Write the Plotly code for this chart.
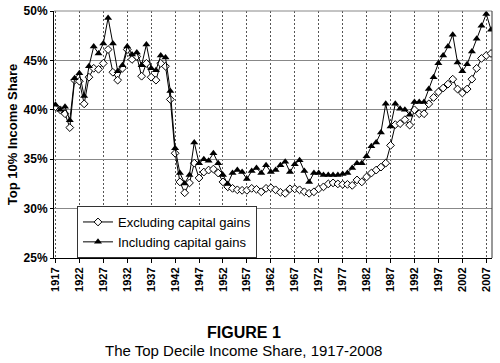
import plotly.graph_objects as go

years = list(range(1917, 2009))

excluding_kg = [
    40.3, 40.0, 39.6, 38.2, 43.0, 42.9, 40.6, 43.3, 44.2, 44.1,   # 1917-1926
    44.7, 46.1, 43.8, 43.0, 44.2, 46.1, 45.1, 45.4, 43.4, 44.7,   # 1927-1936
    43.3, 43.0, 44.7, 44.4, 41.05, 35.6, 32.7, 31.6, 32.6, 34.6,  # 1937-1946
    33.1, 33.7, 33.9, 34.0, 33.6, 32.7, 32.2, 32.05, 31.9, 31.85, # 1947-1956
    31.85, 32.05, 31.95, 31.7, 32.05, 32.1, 31.9, 31.65, 31.55, 32.0,  # 1957-1966
    32.0, 31.9, 31.7, 31.55, 31.7, 32.0, 32.2, 32.5, 32.6, 32.5,  # 1967-1976
    32.45, 32.45, 32.35, 32.9, 32.7, 33.2, 33.6, 33.9, 34.2, 34.6,  # 1977-1986
    36.4, 38.5, 38.6, 39.0, 38.45, 40.0, 39.6, 39.6, 40.6, 41.25,  # 1987-1996
    41.8, 42.2, 42.6, 43.1, 42.1, 41.7, 42.1, 43.1, 44.2, 45.2,   # 1997-2006
    45.5, 45.7,                                                   # 2007-2008
]

including_kg = [
    40.5, 40.0, 40.3, 38.95, 43.2, 43.7, 41.4, 44.4, 46.4, 45.7,  # 1917-1926
    46.7, 49.3, 46.7, 43.9, 44.5, 46.4, 45.6, 45.8, 44.5, 46.6,   # 1927-1936
    44.2, 44.0, 45.5, 45.3, 41.9, 36.1, 33.6, 32.55, 33.4, 36.7,  # 1937-1946
    34.6, 35.0, 34.85, 35.6, 34.6, 33.4, 32.5, 33.6, 33.9, 33.7,  # 1947-1956
    33.0, 33.8, 34.1, 33.6, 34.4, 33.7, 33.9, 34.4, 34.75, 33.7,  # 1957-1966
    34.5, 34.9, 33.8, 32.7, 33.6, 33.6, 33.4, 33.4, 33.4, 33.4,   # 1967-1976
    33.5, 33.6, 34.1, 34.6, 34.6, 35.3, 36.3, 36.7, 37.7, 40.6,   # 1977-1986
    38.3, 40.6, 40.1, 40.0, 39.5, 40.8, 40.8, 40.8, 42.1, 43.3,   # 1987-1996
    44.7, 45.5, 46.4, 47.6, 44.8, 43.9, 44.6, 45.9, 47.2, 48.5,   # 1997-2006
    49.7, 48.1,                                                   # 2007-2008
]

x_tick_years = list(range(1917, 2008, 5))
y_ticks = [25, 30, 35, 40, 45, 50]
y_tick_labels = [f"{v}%" for v in y_ticks]

FONT = "Liberation Sans, Arial, sans-serif"

fig = go.Figure()
fig.add_trace(go.Scatter(
    x=years, y=excluding_kg, name="Excluding capital gains",
    mode="lines+markers",
    line=dict(color="black", width=1),
    marker=dict(symbol="diamond", size=6, color="white",
                line=dict(color="black", width=1)),
))
fig.add_trace(go.Scatter(
    x=years, y=including_kg, name="Including capital gains",
    mode="lines+markers",
    line=dict(color="black", width=1),
    marker=dict(symbol="triangle-up", size=7, color="black"),
))

fig.update_layout(
    width=500, height=363,
    margin=dict(l=54, r=8, t=11, b=105, autoexpand=False),
    paper_bgcolor="white", plot_bgcolor="white",
    font=dict(family=FONT, color="black"),
    showlegend=True,
    legend=dict(
        x=0.0525, y=0.2105, xanchor="left", yanchor="top",
        bgcolor="white", bordercolor="#333", borderwidth=1,
        font=dict(size=13, family=FONT, color="black"),
        tracegroupgap=0, itemwidth=30,
    ),
    xaxis=dict(
        range=[1916.7, 2008.2],
        tickmode="array", tickvals=x_tick_years,
        ticktext=[str(y) for y in x_tick_years],
        tickangle=-90,
        tickfont=dict(size=11, family=FONT, weight="bold"),
        ticks="outside", ticklen=4, tickcolor="black",
        showline=True, linecolor="black", linewidth=1,
        showgrid=True, gridcolor="#555", gridwidth=1, griddash="2px,2px",
        zeroline=False, automargin=False,
    ),
    yaxis=dict(
        range=[25, 50],
        tickmode="array", tickvals=y_ticks, ticktext=y_tick_labels,
        tickfont=dict(size=12, family=FONT, weight="bold"),
        ticks="outside", ticklen=3, tickcolor="black",
        showline=True, linecolor="black", linewidth=1,
        showgrid=True, gridcolor="#888", gridwidth=1,
        zeroline=False, automargin=False,
        title=dict(text="Top 10% Income Share",
                   font=dict(size=13, family=FONT, weight="bold"),
                   standoff=3),
    ),
    shapes=[
        dict(type="line", xref="paper", yref="paper", x0=0, x1=1, y0=1, y1=1,
             line=dict(color="#888", width=1)),
        dict(type="line", xref="paper", yref="paper", x0=1, x1=1, y0=0, y1=1,
             line=dict(color="#333", width=1)),
    ],
    annotations=[
        dict(text="<b>FIGURE 1</b>", xref="paper", yref="paper",
             x=0.433, y=-0.2996, xanchor="center", yanchor="middle",
             showarrow=False, font=dict(size=16, family=FONT, color="black")),
        dict(text="The Top Decile Income Share, 1917-2008", xref="paper", yref="paper",
             x=0.433, y=-0.3765, xanchor="center", yanchor="middle",
             showarrow=False, font=dict(size=15, family=FONT, color="black")),
    ],
)

fig.write_html(
    "out.html",
    config={"displayModeBar": False},
    post_script="document.body.style.margin='0';document.body.style.padding='0';",
)
